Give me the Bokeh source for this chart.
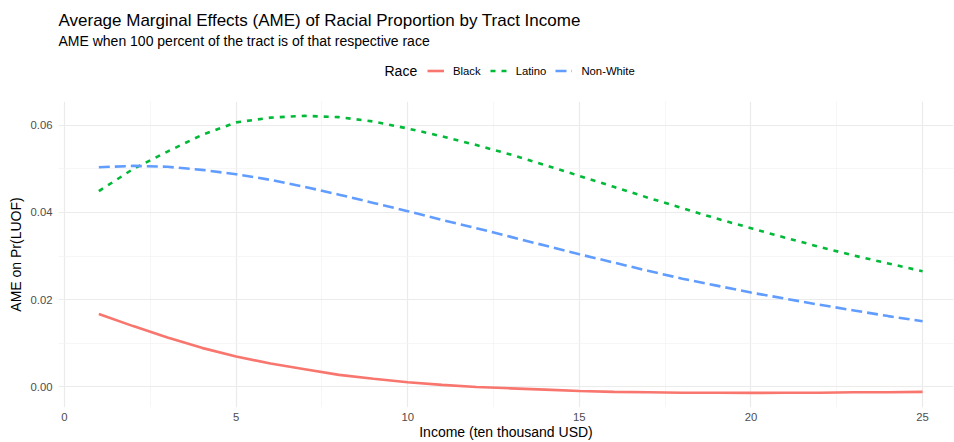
from bokeh.plotting import figure
from bokeh.layouts import column
from bokeh.models import (Range1d, FixedTicker, PrintfTickFormatter, Legend, LegendItem, Label)
from bokeh.embed import file_html
from bokeh.resources import INLINE

# ---- data ----
income = list(range(1, 26))
black = [0.0167, 0.0139, 0.0113, 0.0089, 0.0069, 0.0053, 0.0040, 0.0027, 0.0018, 0.0010,
         0.0004, -0.0001, -0.0004, -0.0007, -0.0010, -0.0012, -0.0013, -0.0014, -0.0014, -0.00145,
         -0.0014, -0.0014, -0.0013, -0.0013, -0.0012]
latino = [0.0449, 0.0500, 0.0540, 0.0578, 0.0607, 0.0618, 0.0622, 0.0619, 0.0609, 0.0593,
          0.0575, 0.0555, 0.0533, 0.0509, 0.0484, 0.0459, 0.0434, 0.0410, 0.0386, 0.0364,
          0.0342, 0.0321, 0.0301, 0.0283, 0.0265]
nonwhite = [0.0504, 0.0507, 0.0505, 0.0498, 0.0488, 0.0475, 0.0459, 0.0441, 0.0422, 0.0403,
            0.0383, 0.0364, 0.0344, 0.0324, 0.0304, 0.0285, 0.0266, 0.0248, 0.0232, 0.0216,
            0.0202, 0.0188, 0.0175, 0.0162, 0.0150]
series_names = ["Black", "Latino", "Non-White"]
series_colors = ["#F8766D", "#00BA38", "#619CFF"]
series_dash = ["solid", "5 6", "11 5"]
x_ticks = [0, 5, 10, 15, 20, 25]
x_minor = [2.5, 7.5, 12.5, 17.5, 22.5]
y_ticks = [0.00, 0.02, 0.04, 0.06]
y_minor = [0.01, 0.03, 0.05]

title_text = "Average Marginal Effects (AME) of Racial Proportion by Tract Income"
subtitle_text = "AME when 100 percent of the tract is of that respective race"
legend_title = "Race"

FONT = "Liberation Sans"
W = 954
HEAD_H = 101
MAIN_H = 341
NAN = float("nan")

# ---------------- header (titles + legend) ----------------
head = figure(width=W, height=HEAD_H, output_backend="svg", toolbar_location=None,
              x_range=Range1d(0, W), y_range=Range1d(HEAD_H, 0),
              x_axis_type=None, y_axis_type=None, frame_align=False,
              min_border=0, min_border_left=0, min_border_right=0,
              min_border_top=0, min_border_bottom=0)
head.grid.visible = False
head.outline_line_color = None
head.background_fill_color = "white"
head.border_fill_color = "white"

head.add_layout(Label(x=58, y=19.5, text=title_text, text_font=FONT, text_font_size="17px",
                      text_color="black", text_baseline="alphabetic", text_align="left"))
head.add_layout(Label(x=58, y=40.3, text=subtitle_text, text_font=FONT, text_font_size="14px",
                      text_color="black", text_baseline="alphabetic", text_align="left"))
head.add_layout(Label(x=384, y=70, text=legend_title, text_font=FONT, text_font_size="14px",
                      text_color="black", text_baseline="middle", text_align="left"))

# renderers that only provide the legend keys (NaN -> nothing drawn in the header)
key_renderers = []
for c, d in zip(series_colors, series_dash):
    key_renderers.append(head.line(x=[NAN, NAN], y=[NAN, NAN], line_color=c,
                                   line_width=2.6, line_dash=d))

legend = Legend(items=[LegendItem(label=n, renderers=[r]) for n, r in zip(series_names, key_renderers)],
                orientation="horizontal", location=(427, HEAD_H - 77),
                glyph_width=17, glyph_height=13, label_height=13, label_standoff=9,
                spacing=9, padding=0, margin=0,
                label_text_font=FONT, label_text_font_size="11.3px",
                label_text_color="black",
                border_line_color=None, background_fill_alpha=0)
head.add_layout(legend, "center")

# ---------------- main plot ----------------
p = figure(width=W, height=MAIN_H, output_backend="svg", toolbar_location=None,
           x_range=Range1d(-0.175, 25.90), y_range=Range1d(-0.0048, 0.0655),
           frame_align=False,
           min_border_left=58, min_border_right=1, min_border_top=0, min_border_bottom=34)
p.outline_line_color = None
p.background_fill_color = "white"
p.border_fill_color = "white"

for ax in (p.xaxis[0], p.yaxis[0]):
    ax.axis_line_color = None
    ax.major_tick_line_color = None
    ax.minor_tick_line_color = None
    ax.major_tick_out = 0
    ax.major_tick_in = 0
    ax.minor_tick_out = 0
    ax.minor_tick_in = 0
    ax.major_label_text_font = FONT
    ax.major_label_text_font_size = "11.3px"
    ax.major_label_text_color = "#4D4D4D"
    ax.axis_label_text_font = FONT
    ax.axis_label_text_font_size = "14px"
    ax.axis_label_text_font_style = "normal"
    ax.axis_label_text_color = "black"

p.xaxis[0].ticker = FixedTicker(ticks=x_ticks, minor_ticks=x_minor)
p.yaxis[0].ticker = FixedTicker(ticks=y_ticks, minor_ticks=y_minor)
p.yaxis[0].formatter = PrintfTickFormatter(format="%.2f")
p.xaxis[0].axis_label = "Income (ten thousand USD)"
p.yaxis[0].axis_label = "AME on Pr(LUOF)"
p.xaxis[0].major_label_standoff = 5
p.xaxis[0].axis_label_standoff = 0
p.yaxis[0].major_label_standoff = 6
p.yaxis[0].axis_label_standoff = 4

for g in (p.xgrid[0], p.ygrid[0]):
    g.grid_line_color = "#EBEBEB"
    g.grid_line_width = 1.2
    g.minor_grid_line_color = "#F2F2F2"
    g.minor_grid_line_width = 0.7

for ys, c, d in zip([black, latino, nonwhite], series_colors, series_dash):
    p.line(income, ys, line_color=c, line_width=2.6, line_dash=d)

layout = column(head, p, spacing=0)
open("out.html", "w").write(file_html(layout, INLINE))
